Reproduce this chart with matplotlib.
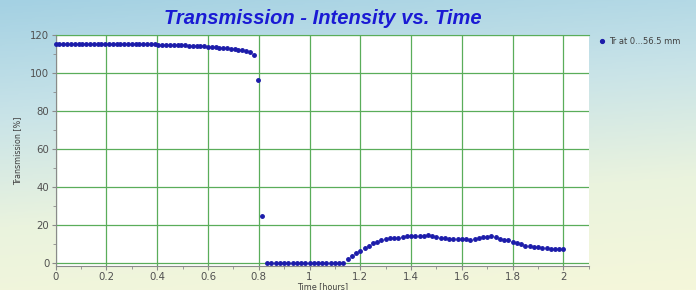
import numpy as np
import matplotlib
matplotlib.use("Agg")
import matplotlib.pyplot as plt
from matplotlib.ticker import MultipleLocator
from matplotlib.colors import LinearSegmentedColormap

# ── data ─────────────────────────────────────────────────────────
plateau_t = [0.000, 0.015, 0.030, 0.045, 0.060, 0.075, 0.090, 0.105, 0.120, 0.135,
             0.150, 0.165, 0.180, 0.195, 0.210, 0.225, 0.240, 0.255, 0.270, 0.285,
             0.300, 0.315, 0.330, 0.345, 0.360, 0.375, 0.390, 0.405, 0.420, 0.435,
             0.450, 0.465, 0.480, 0.495, 0.510, 0.525, 0.540, 0.555, 0.570, 0.585,
             0.600, 0.615, 0.630, 0.645, 0.660, 0.675, 0.690, 0.705, 0.720, 0.735,
             0.750, 0.765, 0.780]
plateau_v = [115.0, 115.1, 115.0, 115.1, 115.2, 115.1, 115.2, 115.2, 115.3, 115.2,
             115.3, 115.3, 115.2, 115.3, 115.3, 115.2, 115.3, 115.2, 115.2, 115.3,
             115.2, 115.1, 115.2, 115.1, 115.0, 115.1, 115.0, 114.9, 114.9, 114.8,
             114.8, 114.7, 114.6, 114.5, 114.4, 114.3, 114.2, 114.1, 114.0, 113.9,
             113.8, 113.6, 113.5, 113.3, 113.1, 112.9, 112.7, 112.5, 112.2, 111.9,
             111.4, 110.8, 109.5]

drop_t = [0.795, 0.814]
drop_v = [96.5, 25.0]

# later part, one point per minute (50 .. 120 min)
late_min = [50, 51, 52, 53, 54, 55, 56, 57, 58, 59, 60, 61, 62, 63, 64, 65, 66, 67, 68,
            69, 70, 71, 72, 73, 74, 75, 76, 77, 78, 79, 80, 81, 82, 83, 84, 85, 86, 87,
            88, 89, 90, 91, 92, 93, 94, 95, 96, 97, 98, 99, 100, 101, 102, 103, 104,
            105, 106, 107, 108, 109, 110, 111, 112, 113, 114, 115, 116, 117, 118, 119, 120]
late_v = [0.0, 0.0, 0.0, 0.0, 0.0, 0.0, 0.0, 0.0, 0.0, 0.0, 0.0, 0.0, 0.0, 0.0, 0.0,
          0.0, 0.0, 0.0, 0.0,
          2.0, 3.8, 5.2, 6.5, 7.8, 9.2, 10.3, 11.2, 12.2, 12.9, 13.2, 13.3, 13.4, 13.6,
          14.0, 14.4, 14.2, 14.0, 14.1, 14.5, 14.3, 13.7, 13.4, 13.2, 12.9, 12.8, 12.9,
          12.7, 12.4, 12.2, 12.6, 13.2, 13.5, 13.9, 14.3, 13.6, 12.6, 12.1, 11.9, 11.0,
          10.3, 9.8, 9.2, 8.9, 8.6, 8.4, 8.1, 7.9, 7.6, 7.5, 7.6, 7.6]

time_h = np.concatenate([plateau_t, drop_t, np.array(late_min) / 60.0])
trans = np.concatenate([plateau_v, drop_v, late_v])

series_label = "Tr at 0...56.5 mm"
grid_green = "#5aad5a"

# ── figure with gradient background ──────────────────────────────
fig = plt.figure(figsize=(6.96, 2.9), dpi=100)
bg = fig.add_axes([0, 0, 1, 1], zorder=-10)
cmap = LinearSegmentedColormap.from_list("bg", ["#a4d1e3", "#c8e3e8", "#eaf3de", "#f5f7da"])
yy = np.linspace(0, 1, 200)[:, None]
xx = np.linspace(0, 1, 300)[None, :]
bg.imshow(yy * 0.85 + xx * 0.15, cmap=cmap, aspect="auto", extent=[0, 1, 0, 1])
bg.axis("off")

ax = fig.add_axes([0.080, 0.083, 0.766, 0.797])
ax.set_facecolor("white")

ax.plot(time_h, trans, linestyle="none", marker="o", ms=2.5,
        color="#1c1caa", mec="#1c1caa", label=series_label, clip_on=False, zorder=3)

ax.set_xlim(0, 2.1)
ax.set_ylim(-1.5, 120)
ax.xaxis.set_minor_locator(MultipleLocator(0.1))
ax.yaxis.set_major_locator(MultipleLocator(20))
ax.yaxis.set_minor_locator(MultipleLocator(10))
ax.set_xticks([0, 0.2, 0.4, 0.6, 0.8, 1.0, 1.2, 1.4, 1.6, 1.8, 2.0])
ax.set_xticklabels(["0", "0.2", "0.4", "0.6", "0.8", "1", "1.2", "1.4", "1.6", "1.8", "2"])

ax.grid(True, which="major", color=grid_green, lw=0.9)
ax.set_axisbelow(True)

ax.spines["right"].set_visible(False)
ax.spines["top"].set_color(grid_green)
ax.spines["left"].set_color("#8a8a8a")
ax.spines["bottom"].set_color("#8a8a8a")

ax.tick_params(which="both", labelsize=7.3, colors="#8a8a8a", labelcolor="#505050",
               direction="out", top=False, right=False)
ax.tick_params(which="major", length=3, pad=1.5)
ax.tick_params(which="minor", length=2)

ax.set_xlabel("Time [hours]", fontsize=5.8, color="#404040", labelpad=0)
ax.set_ylabel("Transmission [%]", fontsize=5.8, color="#404040", labelpad=6)

fig.text(0.464, 0.936, "Transmission - Intensity vs. Time", ha="center", va="center",
         fontsize=14.5, fontweight="bold", fontstyle="italic", color="#1a1ad4",
         family="Liberation Sans")

ax.legend(loc="upper left", bbox_to_anchor=(0.856, 0.885), bbox_transform=fig.transFigure,
          frameon=False, fontsize=6, handlelength=0.6, handletextpad=0.6,
          markerscale=1.1, borderaxespad=0, labelcolor="#404040")

fig.savefig("out.png", dpi=100)
